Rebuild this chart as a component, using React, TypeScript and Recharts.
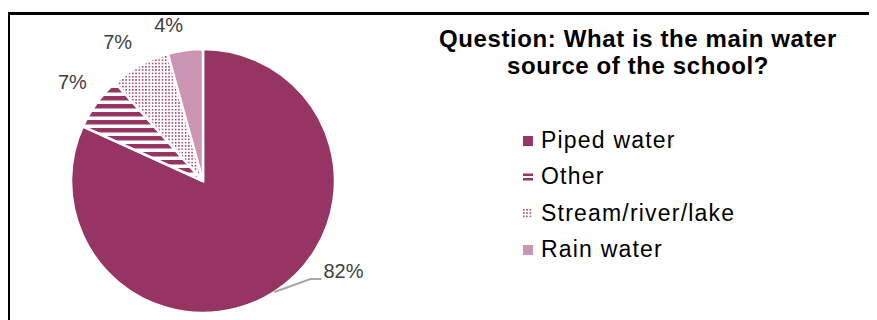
import { PieChart, Pie, Cell, Legend } from "recharts";

const SOURCES = ["Piped water", "Other", "Stream/river/lake", "Rain water"];
const SHARES = [81.8, 6.6, 7.3, 4.3];
const FILLS = ["#963564", "url(#stripes)", "url(#dots)", "#cc95b4"];

const PLUM = "#963564";
const FONT = "'Liberation Sans', Arial, sans-serif";

const data = SOURCES.map((name, i) => ({ name, value: SHARES[i] }));

const RAD = Math.PI / 180;

function PctLabel(props: any) {
  const { cx, cy, midAngle, outerRadius, value, index } = props;
  const txt = Math.round(value) + "%";
  if (index === 0) {
    // leader line for the big slice
    const sx = cx + outerRadius * Math.cos(-midAngle * RAD);
    const sy = cy + outerRadius * Math.sin(-midAngle * RAD);
    const mx = sx + 36;
    const my = sy - 13;
    return (
      <g>
        <polyline points={`${sx},${sy} ${mx},${my} ${mx + 11},${my}`} fill="none" stroke="#a6a6a6" strokeWidth={2} />
        <text x={mx + 13} y={my - 1} fill="#404040" fontSize={20} fontFamily={FONT}>{txt}</text>
      </g>
    );
  }
  const r = outerRadius + 16;
  const x = cx + r * Math.cos(-midAngle * RAD);
  const y = cy + r * Math.sin(-midAngle * RAD);
  return (
    <text x={x + (index === 1 ? 3 : 0)} y={y - (index === 1 ? 4 : 2)} textAnchor="end" fill="#404040" fontSize={20} fontFamily={FONT}>{txt}</text>
  );
}

function Marker({ i }: { i: number }) {
  if (i === 1) {
    return (
      <svg width={10} height={10}>
        <rect x={0} y={1.5} width={10} height={2.5} fill={PLUM} />
        <rect x={0} y={6} width={10} height={2.5} fill={PLUM} />
      </svg>
    );
  }
  if (i === 2) {
    return (
      <svg width={10} height={10}>
        <rect width={10} height={10} fill="url(#dots)" />
      </svg>
    );
  }
  return (
    <svg width={10} height={10}>
      <rect width={10} height={10} fill={FILLS[i]} />
    </svg>
  );
}

function WaterLegend() {
  return (
    <div style={{ fontFamily: FONT, fontSize: 23, letterSpacing: 1.2, color: "#000" }}>
      {SOURCES.map((s, i) => (
        <div key={s} style={{ display: "flex", alignItems: "center", height: 36.3, lineHeight: "36.3px" }}>
          <div style={{ width: 10, height: 10, marginRight: 8, marginTop: 2, display: "flex" }}>
            <Marker i={i} />
          </div>
          <span>{s}</span>
        </div>
      ))}
    </div>
  );
}

export default function App() {
  return (
    <div style={{ position: "relative", width: 877, height: 320, marginLeft: -8, marginTop: -8, overflow: "hidden", background: "#fff" }}>
      <span style={{ position: "absolute", left: 15, top: -15, fontFamily: FONT, fontSize: 20, lineHeight: "20px" }}>g</span>
      <div style={{ position: "absolute", left: 7, top: 12, width: 900, height: 400, borderLeft: "3px solid #000", borderTop: "3px solid #000" }} />
      <div style={{ position: "absolute", left: 0, top: 0 }}>
        <PieChart width={877} height={320} margin={{ top: 0, right: 0, bottom: 0, left: 0 }}>
          <defs>
            <pattern id="stripes" width={8} height={8} patternUnits="userSpaceOnUse">
              <rect width={8} height={8} fill="#fff" />
              <rect width={8} height={4.5} fill={PLUM} />
            </pattern>
            <pattern id="dots" width={3.3} height={3.3} patternUnits="userSpaceOnUse">
              <rect width={3.3} height={3.3} fill="#fff" />
              <rect width={1.5} height={1.5} fill={PLUM} />
            </pattern>
          </defs>
          <Pie
            data={data}
            dataKey="value"
            nameKey="name"
            cx={203}
            cy={181}
            outerRadius={132}
            startAngle={90}
            endAngle={-270}
            stroke="#fff"
            strokeWidth={2.5}
            label={PctLabel}
            labelLine={false}
            isAnimationActive={false}
          >
            {data.map((d, i) => (
              <Cell key={d.name} fill={FILLS[i]} />
            ))}
          </Pie>
          <Legend content={<WaterLegend />} wrapperStyle={{ position: "absolute", left: 523, top: 122, width: 320, bottom: "auto" }} />
        </PieChart>
      </div>
      <div style={{ position: "absolute", left: 338, top: 25, width: 600, textAlign: "center", fontFamily: FONT, fontWeight: 700, fontSize: 24, lineHeight: "27px", letterSpacing: 0.6, color: "#000" }}>
        Question: What is the main water
        <br />
        source of the school?
      </div>
    </div>
  );
}
